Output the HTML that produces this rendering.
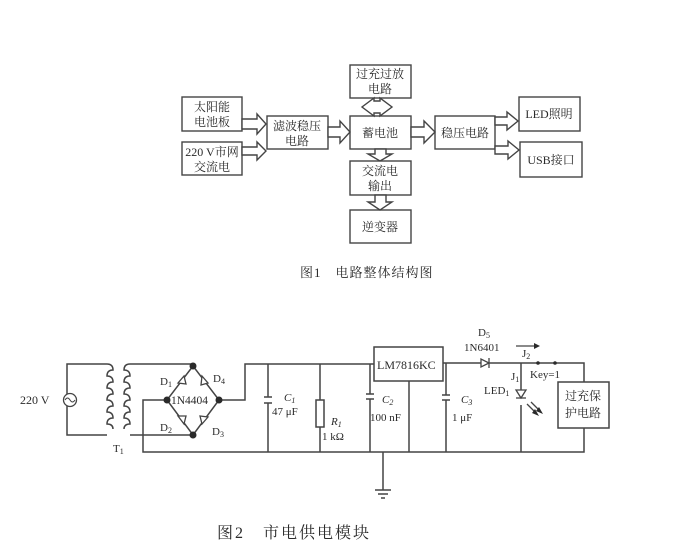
<!DOCTYPE html>
<html><head><meta charset="utf-8"><style>
html,body{margin:0;padding:0;background:#fff;}
svg{display:block;}
text{font-family:"Liberation Serif","Noto Serif CJK SC","Noto Sans CJK SC",serif;fill:#2a2a2a;}
</style></head><body>
<svg width="679" height="554" viewBox="0 0 679 554" xmlns="http://www.w3.org/2000/svg">
<g fill="#fff" stroke="#444" stroke-width="1.4">
<rect x="182" y="97" width="60" height="34"/>
<rect x="182" y="142" width="60" height="33"/>
<rect x="267" y="116" width="61" height="33"/>
<rect x="350" y="116" width="61" height="33"/>
<rect x="350" y="65" width="61" height="33"/>
<rect x="350" y="161" width="61" height="34"/>
<rect x="350" y="210" width="61" height="33"/>
<rect x="435" y="116" width="60" height="33"/>
<rect x="519" y="97" width="61" height="34"/>
<rect x="520" y="142" width="62" height="35"/>
<polygon points="242,119 257,119 257,114 266,124 257,134 257,129 242,129"/>
<polygon points="242,147 257,147 257,142 266,151 257,160 257,155 242,155"/>
<polygon points="328,127 340,127 340,121 350,132 340,143 340,137 328,137"/>
<polygon points="411,127 424,127 424,121 435,132 424,143 424,137 411,137"/>
<polygon points="495,117 507,117 507,112 518,121 507,130 507,125 495,125"/>
<polygon points="495,146 508,146 508,141 519,150 508,159 508,154 495,154"/>
<polygon points="374,101 380,101 380,98 392,107 380,116 380,113 374,113 374,116 362,107 374,98"/>
<polygon points="375,149 386,149 386,154 392,154 380,161 368,154 375,154"/>
<polygon points="375,195 386,195 386,202 392,202 380,210 368,202 375,202"/>
</g>
<g font-size="12" text-anchor="middle">
<text x="212" y="111">太阳能</text><text x="212" y="126">电池板</text>
<text x="212" y="156">220 V市网</text><text x="212" y="171">交流电</text>
<text x="297" y="130">滤波稳压</text><text x="297" y="145">电路</text>
<text x="380" y="78">过充过放</text><text x="380" y="93">电路</text>
<text x="380" y="137">蓄电池</text>
<text x="380" y="175">交流电</text><text x="380" y="190">输出</text>
<text x="380" y="231">逆变器</text>
<text x="465" y="137">稳压电路</text>
<text x="549" y="118">LED照明</text>
<text x="551" y="164">USB接口</text>
</g>
<text x="300" y="277" font-size="13" letter-spacing="1">图1　电路整体结构图</text>

<g fill="none" stroke="#444" stroke-width="1.5">
<path d="M107,364 H67 V435 H107"/>
<path d="M107,364 q6,0 6,6 q-6,0 -6,6 q6,0 6,6 q-6,0 -6,6 q6,0 6,6 q-6,0 -6,6 q6,0 6,6 q-6,0 -6,6 q6,0 6,6 q-6,0 -6,6 q6,0 6,5"/>
<path d="M130,364 q-6,0 -6,6 q6,0 6,6 q-6,0 -6,6 q6,0 6,6 q-6,0 -6,6 q6,0 6,6 q-6,0 -6,6 q6,0 6,6 q-6,0 -6,6 q6,0 6,6 q-6,0 -6,5"/>
<path d="M130,364 H193 M130,435 H193"/>
<path d="M193,366 L167,400 L193,435 L219,400 Z"/>
<path d="M167,400 H143 V452 H584 V363 H443"/>
<path d="M219,400 H245 V364 H374"/>
<path d="M268,364 V397 M268,403 V452"/>
<path d="M264,397 H272 M264,403 H272"/>
<path d="M320,364 V400 M320,427 V452"/>
<rect x="316" y="400" width="8" height="27"/>
<path d="M370,364 V394 M370,399 V452 M366,394 H374 M366,399 H374"/>
<rect x="374" y="347" width="69" height="34"/>
<path d="M409,381 V452"/>
<path d="M446,363 V395 M446,400 V452 M442,395 H450 M442,400 H450"/>
<path d="M383,452 V490 M375,490 H391 M378,494 H388 M381,498 H385"/>
<path d="M521,363 V398 M521,405 V452"/>
<rect x="558" y="382" width="51" height="46" fill="#fff"/>
</g>
<g fill="#fff" stroke="#444" stroke-width="1.3">
<polygon points="481,359 481,367 489,363"/><path d="M489,358 V368"/>
<polygon points="516,390 526,390 521,398"/><path d="M516,398 H526"/>
<polygon points="178,383 184,376 186,384"/>
<polygon points="202,376 208,383 201,385"/>
<polygon points="178,416 186,416 184,424"/>
<polygon points="208,417 202,424 200,416"/>
</g>
<g stroke="#444" stroke-width="1.3" fill="none">
<path d="M527,404 L537,414 M531,402 L541,412"/>
<path d="M516,346 H535"/>
</g>
<g fill="#2a2a2a">
<polygon points="534,343 540,346 534,349"/>
<polygon points="535,409 539,416 532,413"/><polygon points="539,407 543,414 536,411"/>
<circle cx="193" cy="366" r="3.5"/><circle cx="193" cy="435" r="3.5"/>
<circle cx="167" cy="400" r="3.5"/><circle cx="219" cy="400" r="3.5"/>
<circle cx="538" cy="363" r="1.8"/><circle cx="555" cy="363" r="1.8"/>
</g>
<circle cx="70" cy="400" r="6.5" fill="#fff" stroke="#444" stroke-width="1.3"/>
<path d="M65,400 q2.5,-4 5,0 q2.5,4 5,0" fill="none" stroke="#444" stroke-width="1"/>
<g font-size="11">
<text x="20" y="404" font-size="12">220 V</text>
<text x="160" y="385">D<tspan font-size="8" dy="2">1</tspan></text>
<text x="213" y="382">D<tspan font-size="8" dy="2">4</tspan></text>
<text x="160" y="431">D<tspan font-size="8" dy="2">2</tspan></text>
<text x="212" y="435">D<tspan font-size="8" dy="2">3</tspan></text>
<text x="171" y="404" font-size="11.5">1N4404</text>
<text x="113" y="452">T<tspan font-size="8" dy="2">1</tspan></text>
<text x="284" y="401" font-style="italic">C<tspan font-size="8" dy="2">1</tspan></text>
<text x="272" y="415">47  μF</text>
<text x="331" y="425" font-style="italic">R<tspan font-size="8" dy="2">1</tspan></text>
<text x="322" y="440">1  kΩ</text>
<text x="382" y="403" font-style="italic">C<tspan font-size="8" dy="2">2</tspan></text>
<text x="370" y="421">100  nF</text>
<text x="461" y="403" font-style="italic">C<tspan font-size="8" dy="2">3</tspan></text>
<text x="452" y="421">1  μF</text>
<text x="377" y="369" font-size="12">LM7816KC</text>
<text x="478" y="336">D<tspan font-size="8" dy="2">5</tspan></text>
<text x="464" y="351">1N6401</text>
<text x="522" y="357">J<tspan font-size="8" dy="2">2</tspan></text>
<text x="511" y="380">J<tspan font-size="8" dy="2">1</tspan></text>
<text x="530" y="378">Key=1</text>
<text x="484" y="394">LED<tspan font-size="8" dy="2">1</tspan></text>
</g>
<g font-size="12" text-anchor="middle">
<text x="583" y="400">过充保</text><text x="583" y="417">护电路</text>
</g>
<text x="217" y="538" font-size="16" letter-spacing="2">图2　市电供电模块</text>
</svg>
</body></html>
